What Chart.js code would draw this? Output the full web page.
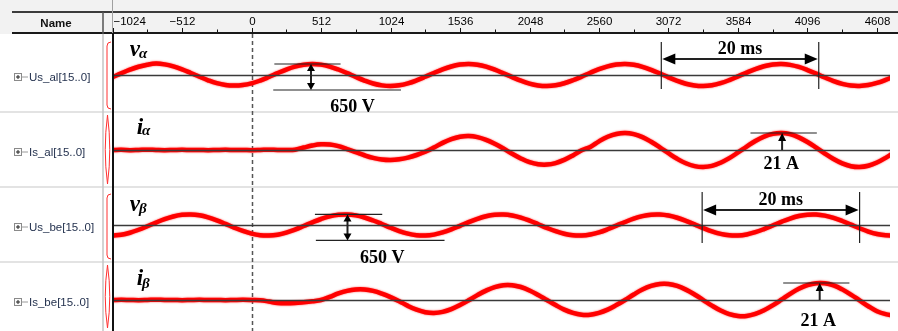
<!DOCTYPE html>
<html>
<head>
<meta charset="utf-8">
<title>Us / Is waveforms</title>
<script src="https://cdn.jsdelivr.net/npm/chart.js@4.4.0/dist/chart.umd.min.js"></script>
<style>
  html, body { margin: 0; padding: 0; background: #fff; }
  #wrap { position: relative; width: 898px; height: 331px; }
</style>
</head>
<body>
<div id="wrap"><canvas id="waves" width="898" height="331"></canvas></div>
<script>
// sample clock of the capture (one point every 64 samples)
const SAMPLE_X = Array.from({ length: 91 }, (_, i) => -1024 + 64 * i);

// Us_al, volts
const V_ALPHA = [
  -54, 41, 132, 207, 258, 285, 265, 214, 140, 50,
  -44, -132, -205, -250, -265, -252, -210, -139, -50, 46,
  136, 210, 258, 275, 259, 211, 137, 47, -49, -138,
  -212, -259, -275, -258, -209, -135, -45, 51, 141, 213,
  260, 275, 257, 208, 133, 42, -53, -143, -215, -261,
  -275, -256, -206, -131, -40, 56, 145, 216, 261, 275,
  255, 204, 129, 38, -58, -147, -218, -262, -275, -254,
  -203, -127, -35, 61, 149, 219, 263, 275, 253, 201,
  124, 33, -63, -151, -221, -264, -274, -252, -199, -122,
  -30
];

// Is_al, amps
const I_ALPHA = [
  0, 0.2, -0.2, 0, 0.3, 0, -0.2, 0, 0.2, 0,
  0, -0.3, 0, 0.2, 0, 0, -0.2, 0, 0.3, 0,
  0, 0.4, 3.0, 5.5, 7.0, 6.7, 4.7, 1.2, -2.6, -6.5,
  -9.7, -11.7, -12.3, -11.5, -9.4, -6.2, -2.2, 3.0, 8.8, 13.4,
  16.4, 17.3, 15.9, 12.6, 7.7, 1.8, -4.6, -10.4, -15.0, -17.6,
  -18.0, -16.2, -12.2, -6.7, -0.4, 3.8, 10.7, 16.3, 19.8, 21.0,
  19.6, 15.9, 10.1, 3.3, -4.0, -10.9, -16.4, -19.9, -21.0, -19.6,
  -15.7, -10.1, -3.1, 4.2, 11.1, 16.5, 19.9, 21.0, 19.5, 15.6,
  9.9, 2.9, -4.4, -11.2, -16.6, -20.0, -21.0, -19.4, -15.5, -9.7,
  -2.7
];

// Us_be, volts
const V_BETA = [
  -265, -244, -193, -119, -31, 61, 146, 213, 254, 264,
  243, 191, 117, 28, -64, -148, -214, -255, -264, -242,
  -190, -115, -26, 66, 150, 216, 255, 264, 241, 188,
  113, 24, -68, -152, -217, -256, -264, -240, -186, -111,
  -21, 71, 154, 219, 257, 264, 239, 185, 108, 19,
  -73, -156, -220, -257, -263, -238, -183, -106, -16, 75,
  158, 221, 258, 263, 237, 181, 104, 14, -77, -160,
  -222, -258, -263, -236, -180, -102, -12, 80, 162, 224,
  259, 263, 234, 178, 100, 9, -82, -163, -225, -259,
  -262
];

// Is_be, amps
const I_BETA = [
  0, 0.2, 0, -0.2, 0, 0.3, 0, 0, -0.2, 0,
  0.2, 0, 0, -0.3, 0, 0.2, 0, -0.4, -1.9, -3.7,
  -4.1, -3.7, -2.7, -1.5, 0, 3.8, 8.1, 11.3, 13.0, 13.0,
  11.2, 7.9, 3.6, -1.5, -7.3, -12.0, -15.1, -16.0, -14.7, -11.3,
  -6.3, -0.4, 6.0, 11.6, 15.9, 18.2, 18.2, 16.0, 11.8, 6.2,
  -0.1, -6.3, -11.9, -16.0, -18.2, -18.2, -16.0, -11.9, -6.3, 0,
  6.8, 12.9, 17.3, 19.7, 19.7, 17.3, 12.8, 6.8, -0.1, -7.0,
  -13.0, -17.4, -19.7, -19.7, -17.2, -12.7, -6.6, 0.3, 7.5, 13.8,
  18.4, 20.7, 20.6, 18.0, 13.1, 6.7, -0.5, -7.7, -13.9, -17.5,
  -19.5
];

const SIGNAL_NAMES = ['Us_al[15..0]', 'Is_al[15..0]', 'Us_be[15..0]', 'Is_be[15..0]'];
const TICK_VALUES = [-1024, -512, 0, 512, 1024, 1536, 2048, 2560, 3072, 3584, 4096, 4608];
const TICK_LABELS = ['\u22121024', '\u2212512', '0', '512', '1024', '1536', '2048', '2560', '3072', '3584', '4096', '4608'];

const SAMPLES_PER_MS = 58;
const ROWS = ['y1', 'y2', 'y3', 'y4'];
const RED = '#ff0000';
const SERIF = '"Liberation Serif", "Times New Roman", serif';
const SANS = '"Liberation Sans", Arial, sans-serif';

function points(values) {
  return SAMPLE_X.map((x, i) => ({ x: x, y: values[i] }));
}

function line(ctx, x1, y1, x2, y2) {
  ctx.beginPath();
  ctx.moveTo(x1, y1);
  ctx.lineTo(x2, y2);
  ctx.stroke();
}

// filled head with the tip at (x, y), pointing along (dx, dy)
function arrowHead(ctx, x, y, dx, dy, len, half) {
  ctx.beginPath();
  ctx.moveTo(x, y);
  ctx.lineTo(x - dx * len - dy * half, y - dy * len + dx * half);
  ctx.lineTo(x - dx * len + dy * half, y - dy * len - dx * half);
  ctx.closePath();
  ctx.fill();
}

const frame = {
  id: 'frame',
  beforeDraw(chart) {
    const { ctx, width, height, scales } = chart;
    const xs = scales.x;
    ctx.save();
    ctx.fillStyle = '#fff';
    ctx.fillRect(0, 0, width, height);

    // header band with the sample ruler
    ctx.fillStyle = '#f2f2f2';
    ctx.fillRect(0, 0, width, 34);
    ctx.strokeStyle = '#3c3c3c';
    ctx.lineWidth = 2;
    line(ctx, 12, 12, width, 12);
    ctx.strokeStyle = '#1a1a1a';
    line(ctx, 12, 33, width, 33);
    ctx.strokeStyle = '#555';
    ctx.lineWidth = 1.5;
    line(ctx, 103, 12, 103, 34);
    ctx.strokeStyle = '#a0a0a0';
    ctx.lineWidth = 1;
    line(ctx, 112.5, 0, 112.5, 34);

    ctx.fillStyle = '#111';
    ctx.font = 'bold 11.5px ' + SANS;
    ctx.textAlign = 'center';
    ctx.textBaseline = 'middle';
    ctx.fillText('Name', 56, 24);

    ctx.strokeStyle = '#111';
    ctx.lineWidth = 1;
    ctx.fillStyle = '#000';
    ctx.font = '11.5px ' + SANS;
    TICK_VALUES.forEach((v, i) => {
      const px = Math.round(xs.getPixelForValue(v)) + 0.5;
      line(ctx, px, 32, px, 28);
      const mid = Math.round(xs.getPixelForValue(v + 256)) + 0.5;
      if (mid < width) line(ctx, mid, 32, mid, 29.5);
      ctx.textAlign = i === 0 ? 'left' : 'center';
      ctx.fillText(TICK_LABELS[i], px, 22);
    });

    // row separators and name column
    ctx.strokeStyle = '#e3e3e3';
    ctx.lineWidth = 2;
    ROWS.slice(0, 3).forEach(id => {
      const y = scales[id].bottom;
      line(ctx, 0, y, width, y);
    });
    ctx.strokeStyle = '#c4c4c4';
    ctx.lineWidth = 1.5;
    line(ctx, 103, 34, 103, height);

    ctx.font = '11.5px ' + SANS;
    ctx.textAlign = 'left';
    ROWS.forEach((id, r) => {
      const s = scales[id];
      const y = Math.round(s.getPixelForValue(0)) + 2;
      ctx.strokeStyle = '#8a8a8a';
      ctx.lineWidth = 1;
      ctx.fillStyle = '#fafafa';
      ctx.fillRect(14.5, y - 3.5, 7, 7);
      ctx.strokeRect(14.5, y - 3.5, 7, 7);
      ctx.strokeStyle = '#222';
      line(ctx, 16, y, 20, y);
      line(ctx, 18, y - 2, 18, y + 2);
      ctx.strokeStyle = '#9a9a9a';
      line(ctx, 21.5, y, 28, y);
      ctx.fillStyle = '#24324f';
      ctx.fillText(SIGNAL_NAMES[r], 29, y + 0.5);

      // bus bracket / lens marker
      const t = s.top, b = s.bottom;
      ctx.strokeStyle = '#ff3030';
      ctx.lineWidth = 1;
      ctx.beginPath();
      if (r % 2 === 0) {
        ctx.moveTo(111, t + 7);
        ctx.quadraticCurveTo(107, t + 7, 107, t + 11);
        ctx.lineTo(107, b - 7);
        ctx.quadraticCurveTo(107, b - 3, 111, b - 3);
      } else {
        const m = (t + b) / 2;
        ctx.moveTo(107.5, t + 3);
        ctx.quadraticCurveTo(103, m, 107.5, b - 3);
        ctx.quadraticCurveTo(112, m, 107.5, t + 3);
      }
      ctx.stroke();
    });

    // trigger position
    const x0 = Math.round(xs.getPixelForValue(0)) + 0.5;
    ctx.strokeStyle = '#555';
    ctx.lineWidth = 1.5;
    ctx.setLineDash([4, 3]);
    line(ctx, x0, 34, x0, height);
    ctx.setLineDash([]);
    ctx.restore();
  },

  // soft edge on the traces, like a noisy capture
  beforeDatasetDraw(chart) {
    chart.ctx.save();
    chart.ctx.shadowColor = 'rgba(255, 0, 0, 0.7)';
    chart.ctx.shadowBlur = 2;
  },
  afterDatasetDraw(chart) {
    chart.ctx.restore();
  },

  afterDatasetsDraw(chart) {
    const { ctx, chartArea: a, height, scales } = chart;
    const xs = scales.x;
    const X = v => xs.getPixelForValue(v);
    ctx.save();

    // zero lines of every row
    ctx.strokeStyle = '#3a3a3a';
    ctx.lineWidth = 1.5;
    ROWS.forEach(id => {
      const y = Math.round(scales[id].getPixelForValue(0)) + 0.5;
      line(ctx, a.left, y, a.right, y);
    });
    ctx.strokeStyle = '#111';
    ctx.lineWidth = 2;
    line(ctx, 113, 33, 113, height);

    ctx.strokeStyle = '#222';
    ctx.fillStyle = '#000';

    // 650 V swing markers on the voltage rows
    [
      { id: 'y1', top: 275, topFrom: 168, topTo: 656, low: -375, lowFrom: 160, lowTo: 1101, at: 438, lx: 744, ly: -800 },
      { id: 'y3', top: 265, topFrom: 467, topTo: 963, low: -385, lowFrom: 474, lowTo: 1422, at: 707, lx: 963, ly: -825 }
    ].forEach(m => {
      const ys = scales[m.id];
      const yt = ys.getPixelForValue(m.top), yb = ys.getPixelForValue(m.low);
      ctx.lineWidth = 1.2;
      line(ctx, X(m.topFrom), yt, X(m.topTo), yt);
      line(ctx, X(m.lowFrom), yb, X(m.lowTo), yb);
      const ax = X(m.at);
      ctx.lineWidth = 2;
      line(ctx, ax, yt + 5, ax, yb - 5);
      arrowHead(ctx, ax, yt, 0, -1, 7, 4);
      arrowHead(ctx, ax, yb, 0, 1, 7, 4);
      ctx.font = 'bold 18px ' + SERIF;
      ctx.textAlign = 'center';
      ctx.textBaseline = 'middle';
      ctx.fillText('650 V', X(m.lx), ys.getPixelForValue(m.ly));
    });

    // one grid period, 20 ms
    [
      { id: 'y1', start: 3019, hi: 825, lo: -350, arrow: 400, label: 650 },
      { id: 'y3', start: 3320, hi: 825, lo: -450, arrow: 375, label: 625 }
    ].forEach(m => {
      const ys = scales[m.id];
      const x1 = X(m.start), x2 = X(m.start + 20 * SAMPLES_PER_MS);
      ctx.lineWidth = 1.2;
      line(ctx, x1, ys.getPixelForValue(m.hi), x1, ys.getPixelForValue(m.lo));
      line(ctx, x2, ys.getPixelForValue(m.hi), x2, ys.getPixelForValue(m.lo));
      const ya = ys.getPixelForValue(m.arrow);
      ctx.lineWidth = 2;
      line(ctx, x1 + 10, ya, x2 - 10, ya);
      arrowHead(ctx, x1 + 1, ya, -1, 0, 13, 5.5);
      arrowHead(ctx, x2 - 1, ya, 1, 0, 13, 5.5);
      ctx.font = 'bold 18px ' + SERIF;
      ctx.textAlign = 'center';
      ctx.textBaseline = 'middle';
      ctx.fillText('20 ms', (x1 + x2) / 2, ys.getPixelForValue(m.label));
    });

    // 21 A peak markers on the current rows
    [
      { id: 'y2', from: 3676, to: 4165, at: 3909, lx: 3902, ly: -17.3 },
      { id: 'y4', from: 3917, to: 4405, at: 4186, lx: 4175, ly: -26 }
    ].forEach(m => {
      const ys = scales[m.id];
      const yp = ys.getPixelForValue(21), y0 = ys.getPixelForValue(0);
      ctx.lineWidth = 1.2;
      line(ctx, X(m.from), yp, X(m.to), yp);
      const ax = X(m.at);
      ctx.lineWidth = 2;
      line(ctx, ax, y0, ax, yp + 6);
      arrowHead(ctx, ax, yp, 0, -1, 8, 4);
      ctx.font = 'bold 18px ' + SERIF;
      ctx.textAlign = 'center';
      ctx.textBaseline = 'middle';
      ctx.fillText('21 A', X(m.lx), ys.getPixelForValue(m.ly));
    });

    // signal symbols, subscript set right after the letter
    ctx.textAlign = 'left';
    ctx.textBaseline = 'alphabetic';
    [
      { id: 'y1', main: 'v', sub: '\u03b1', x: -897, y: 475, sy: 425 },
      { id: 'y2', main: 'i', sub: '\u03b1', x: -846, y: 19.8, sy: 18.5 },
      { id: 'y3', main: 'v', sub: '\u03b2', x: -897, y: 350, sy: 300 },
      { id: 'y4', main: 'i', sub: '\u03b2', x: -846, y: 18.5, sy: 14.8 }
    ].forEach(m => {
      const ys = scales[m.id];
      const px = X(m.x);
      ctx.font = 'bold italic 23px ' + SERIF;
      ctx.fillText(m.main, px, ys.getPixelForValue(m.y));
      const w = ctx.measureText(m.main).width;
      ctx.font = 'bold italic 15px ' + SERIF;
      ctx.fillText(m.sub, px + w - 1, ys.getPixelForValue(m.sy));
    });
    ctx.restore();
  }
};

function rowAxis(min, max, weight) {
  return {
    type: 'linear',
    position: 'right',
    stack: 'rows',
    stackWeight: weight,
    offset: false,
    min: min,
    max: max,
    grid: { display: false },
    border: { display: false },
    ticks: { display: false }
  };
}

function trace(values, axis) {
  return {
    data: points(values),
    yAxisID: axis,
    borderColor: RED,
    borderWidth: 4.5,
    borderJoinStyle: 'round',
    borderCapStyle: 'round',
    pointRadius: 0,
    tension: 0.4,
    fill: false
  };
}

new Chart(document.getElementById('waves'), {
  type: 'line',
  data: {
    datasets: [
      trace(V_ALPHA, 'y1'),
      trace(I_ALPHA, 'y2'),
      trace(V_BETA, 'y3'),
      trace(I_BETA, 'y4')
    ]
  },
  options: {
    responsive: false,
    animation: false,
    events: [],
    parsing: false,
    layout: { padding: { left: 112, top: 35, right: 0, bottom: 0 } },
    plugins: { legend: { display: false }, tooltip: { enabled: false } },
    scales: {
      x: { type: 'linear', display: false, min: -1028, max: 4704 },
      y1: rowAxis(-925, 1000, 77),
      y2: rowAxis(-45.7, 46.9, 75),
      y3: rowAxis(-925, 950, 75),
      y4: rowAxis(-38.3, 46.9, 69)
    }
  },
  plugins: [frame]
});
</script>
</body>
</html>
